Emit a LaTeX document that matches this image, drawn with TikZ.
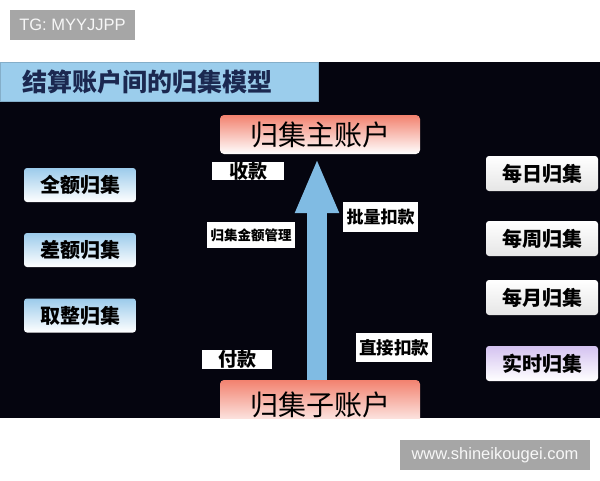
\documentclass[tikz,border=0pt]{standalone}
\usepackage{fontspec}
\newfontfamily\cjk{Noto Sans CJK SC}
\newfontfamily\lat{Liberation Sans}
\usetikzlibrary{arrows.meta}
\definecolor{panel}{HTML}{05050F}
\definecolor{barblue}{HTML}{9BCDEC}
\definecolor{titleink}{HTML}{1B2850}
\definecolor{arrowblue}{HTML}{80BBE3}
\definecolor{salmon}{HTML}{F2826F}
\definecolor{skyblue}{HTML}{9CCBEB}
\definecolor{lavender}{HTML}{D4C2F0}
\definecolor{tag}{HTML}{A6A6A6}
\tikzset{
  fsz/.style={font=\cjk\bfseries\fontsize{#1}{#1}\selectfont},
  fszr/.style={font=\cjk\fontsize{#1}{#1}\selectfont},
  mainbox/.style={rounded corners=4pt, top color=salmon, middle color=white, bottom color=white,
    minimum width=200, minimum height=39, inner sep=0pt, fszr=28, text=black},
  leftbox/.style={rounded corners=3pt, top color=skyblue, bottom color=white,
    minimum width=112, minimum height=34, inner sep=0pt, fsz=20, text=black},
  rightbox/.style={rounded corners=3pt, top color=white, bottom color=gray!20,
    minimum width=112, minimum height=35, inner sep=0pt, fsz=20, text=black},
  lbl/.style={fill=white, inner sep=0pt, text=black},
  tagbox/.style={fill=tag, text=white!94!gray, inner sep=0pt, font=\lat\fontsize{16.5}{16.5}\selectfont}
}
\begin{document}
\begin{tikzpicture}[x=1pt,y=-1pt]
\useasboundingbox (0,0) rectangle (600,480);
\fill[white] (0,0) rectangle (600,480);
\fill[panel] (0,62) rectangle (600,418);

\node[tagbox, minimum width=125, minimum height=30] (tg) at (72.5,25) {TG: MYYJJPP};
\node[tagbox, minimum width=190, minimum height=30] (www) at (495,455) {www.shineikougei.com};

\node[fill=barblue, draw=barblue!85!black, line width=0.5pt, anchor=north west,
  minimum width=318, minimum height=39, text width=274, inner xsep=22pt, inner ysep=0pt,
  align=left, text=titleink, fsz=25] (title) at (0,62) {结算账户间的归集模型};

\node[mainbox] (main) at (320,134.5) {归集主账户};
\begin{scope}
\clip (0,62) rectangle (600,418);
\node[mainbox, minimum height=50] (sub) at (320,405) {归集子账户};
\end{scope}

\draw[arrowblue, line width=20pt, -{Triangle[width=40pt,length=55pt]}, shorten >=4pt]
  (sub.north -| 317,0) -- (main.south -| 317,0);

\node[lbl, minimum width=72, minimum height=18, fsz=19] (shou) at (248,171) {收款};
\node[lbl, minimum width=75, minimum height=30, fsz=17] (piliang) at (380.5,217) {批量扣款};
\node[lbl, minimum width=88, minimum height=26, fsz=13.5] (jine) at (251,235) {归集金额管理};
\node[lbl, minimum width=70, minimum height=17, fsz=19] (fu) at (237,359.5) {付款};
\node[lbl, minimum width=76, minimum height=29, fsz=17.5] (zhijie) at (394,347.5) {直接扣款};

\node[leftbox] (quan) at (80,185) {全额归集};
\node[leftbox] (cha) at (80,250) {差额归集};
\node[leftbox] (qu) at (80,315.5) {取整归集};

\node[rightbox] (ri) at (542,173.5) {每日归集};
\node[rightbox] (zhou) at (542,238.5) {每周归集};
\node[rightbox] (yue) at (542,297.5) {每月归集};
\node[rightbox, top color=lavender, bottom color=white] (shi) at (542,363.5) {实时归集};
\end{tikzpicture}
\end{document}
